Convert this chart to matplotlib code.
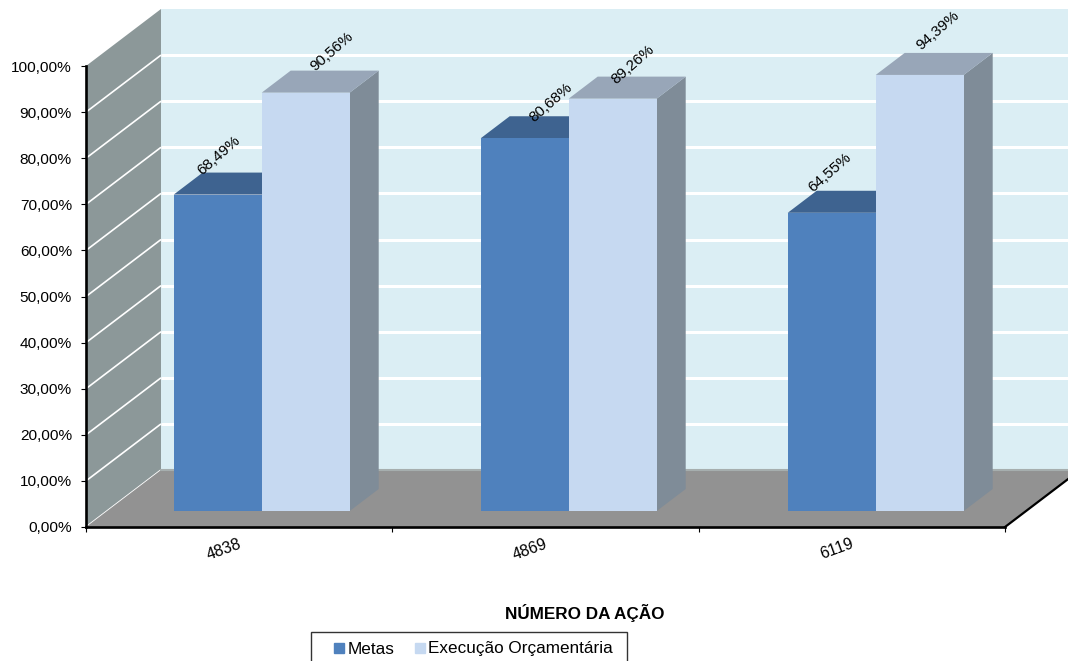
import matplotlib
matplotlib.use('Agg')
import matplotlib.pyplot as plt
from matplotlib.lines import Line2D
from matplotlib.patches import Polygon, Rectangle

plt.rcParams['font.family'] = ['Liberation Sans', 'DejaVu Sans']

acoes = ['4838', '4869', '6119']
metas = [68.49, 80.68, 64.55]
execucao = [90.56, 89.26, 94.39]
rotulos_metas = ['68,49%', '80,68%', '64,55%']
rotulos_execucao = ['90,56%', '89,26%', '94,39%']
ticks_y = [0, 10, 20, 30, 40, 50, 60, 70, 80, 90, 100]
rotulos_y = ['0,00%', '10,00%', '20,00%', '30,00%', '40,00%', '50,00%',
             '60,00%', '70,00%', '80,00%', '90,00%', '100,00%']

W, H = 1068, 661

# eixo frontal: x 86-1005 px, y 527-66 px
fig = plt.figure(figsize=(W / 100, H / 100), dpi=100, facecolor='white')
ax = fig.add_axes([86 / W, 1 - 527 / H, 919 / W, 461 / H])
ax.set_xlim(0, 3)
ax.set_ylim(0, 100)
ax.patch.set_visible(False)

# profundidade do grafico, em unidades dos eixos
PROF_X = 75 / (919 / 3)
PROF_Y = 57 / 4.61


def proj(x, v, d):
    # x = categoria, v = valor, d = 0 (frente) a 1 (fundo)
    return (x + d * PROF_X, v + d * PROF_Y)


def face(pts, cor, z, borda='none'):
    ax.add_patch(Polygon([proj(*p) for p in pts], closed=True, facecolor=cor,
                         edgecolor=borda, linewidth=0.8, zorder=z, clip_on=False))


# --- paredes e piso ---
face([(0, 0, 1), (3, 0, 1), (3, 100, 1), (0, 100, 1)], '#DBEEF4', 1)
face([(0, 0, 0), (0, 0, 1), (0, 100, 1), (0, 100, 0)], '#8C9899', 1)
face([(0, 0, 0), (3, 0, 0), (3, 0, 1), (0, 0, 1)], '#929292', 2)

for v in ticks_y[1:-1]:
    ax.plot(*zip(proj(0, v, 1), proj(3, v, 1)), color='white', lw=2.2, zorder=1.5,
            clip_on=False, solid_capstyle='butt')
for v in ticks_y[:-1]:
    ax.plot(*zip(proj(0, v, 0), proj(0, v, 1)), color='white', lw=1.2, zorder=1.5,
            clip_on=False, solid_capstyle='butt')
ax.plot(*zip(proj(0, 0, 1), proj(3, 0, 1)), color='#A6AEAE', lw=1.5, zorder=2.5, clip_on=False)
ax.plot(*zip(proj(3, 0, 0), proj(3, 0, 1)), color='black', lw=1.6, zorder=3, clip_on=False)

# --- barras ---
LARG = 88 / (919 / 3)
PASSO = 307 / (919 / 3)   # as barras andam 307 px, um pouco mais que a categoria
ESC = 4.62 / 4.61
D0, D1 = 16 / 57, 38 / 57
series = [
    (metas, -LARG, '#4F81BD', '#3E6390', '#3E6390'),
    (execucao, 0, '#C6D9F1', '#98A6B8', '#7F8C98'),
]
for valores, desl, frente, topo, lado in series:
    for i, v in enumerate(valores):
        x0 = i * PASSO + 0.505 + desl
        x1 = x0 + LARG
        h = v * ESC
        face([(x1, 0, D0), (x1, 0, D1), (x1, h, D1), (x1, h, D0)], lado, 4)
        face([(x0, h, D0), (x1, h, D0), (x1, h, D1), (x0, h, D1)], topo, 4)
        face([(x0, 0, D0), (x1, 0, D0), (x1, h, D0), (x0, h, D0)], frente, 5)

# rotulos de dados, ajustados a mao (pontos a partir do topo de tras da barra)
ajustes_metas = [(-20, 12), (-2, 10), (-22, 13)]
ajustes_exec = [(-2, 14), (-6, 9), (-8, 16)]
for i in range(3):
    xm = i * PASSO + 0.505 - LARG / 2
    ax.annotate(rotulos_metas[i], proj(xm, metas[i] * ESC, D1), xytext=ajustes_metas[i],
                textcoords='offset points', ha='center', va='center', rotation=41,
                fontsize=11, zorder=6, annotation_clip=False)
    xe = i * PASSO + 0.505 + LARG / 2
    ax.annotate(rotulos_execucao[i], proj(xe, execucao[i] * ESC, D1), xytext=ajustes_exec[i],
                textcoords='offset points', ha='center', va='center', rotation=41,
                fontsize=11, zorder=6, annotation_clip=False)

# --- eixos ---
for lado in ['top', 'right']:
    ax.spines[lado].set_visible(False)
for lado in ['left', 'bottom']:
    ax.spines[lado].set_linewidth(1.9)
    ax.spines[lado].set_zorder(7)
ax.set_yticks(ticks_y)
ax.set_yticklabels(rotulos_y, fontsize=11.1)
ax.set_xticks([0, 1, 2, 3])
ax.set_xticklabels([])
ax.tick_params(axis='y', length=3.6, width=0.8, pad=6.5)
ax.tick_params(axis='x', length=3.6, width=0.8)

for i, a in enumerate(acoes):
    ax.annotate(a, (i + 0.5, 0), xytext=(-11, -16), textcoords='offset points',
                ha='center', va='center', rotation=20, fontsize=11.5,
                annotation_clip=False)

fig.text(585 / W, 1 - 613 / H, 'NÚMERO DA AÇÃO', fontsize=12.3, fontweight='bold',
         ha='center', va='center')

# --- legenda (a moldura sai pela parte de baixo da figura) ---
fig.add_artist(Rectangle((311 / W, -0.02), 316 / W, 0.02 + 29 / H, transform=fig.transFigure,
                         facecolor='white', edgecolor='#333333', linewidth=1))
marcas = [Line2D([], [], marker='s', linestyle='none', markersize=6.5, color='#4F81BD'),
          Line2D([], [], marker='s', linestyle='none', markersize=6.5, color='#C6D9F1')]
leg = fig.legend(marcas, ['Metas', 'Execução Orçamentária'], ncol=2, frameon=False,
                 loc='center left', bbox_to_anchor=(320 / W, 1 - 649 / H), fontsize=12.3,
                 borderpad=0, borderaxespad=0, handlelength=2.17, handletextpad=-0.58,
                 columnspacing=0.42)

fig.savefig('out.png', dpi=100)
